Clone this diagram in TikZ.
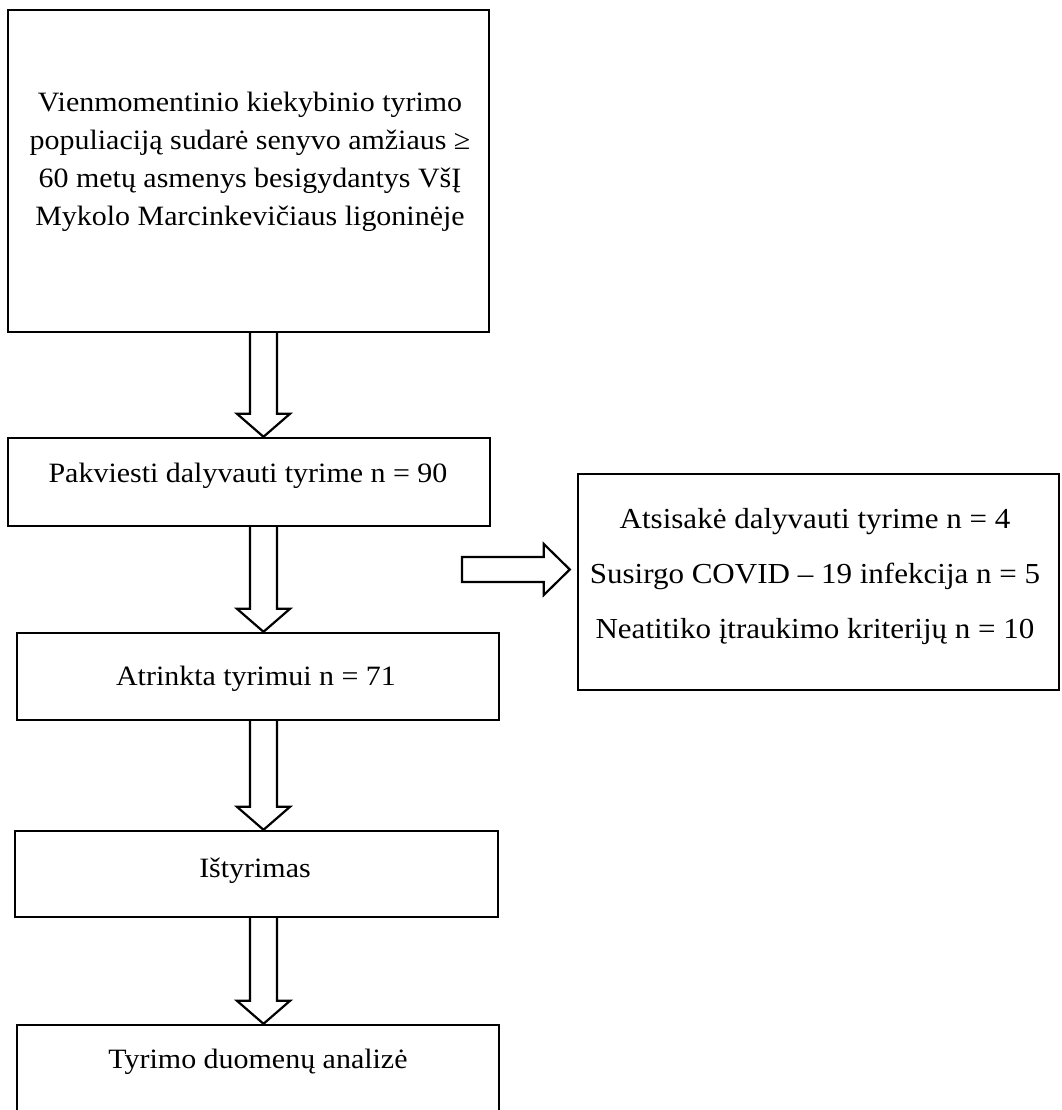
\documentclass[tikz,border=0pt]{standalone}
\usepackage{fontspec}
\setmainfont[FakeStretch=1.07]{Liberation Serif}
\usetikzlibrary{calc}
\newcommand\dnblk[2]{%
  \draw[blk] ($(#1)+(-13.5,0)$) -- ($(#2)+(-13.5,-23)$) -- ($(#2)+(-26.5,-23)$) -- (#2)
    -- ($(#2)+(26.5,-23)$) -- ($(#2)+(13.5,-23)$) -- ($(#1)+(13.5,0)$);}
\begin{document}
\begin{tikzpicture}[x=1pt,y=-1pt,
  box/.style={draw, line width=2.4pt, rectangle, inner sep=0pt},
  txt/.style={font=\fontsize{28}{37.7}\selectfont, inner sep=0pt, anchor=base, align=center},
  txtb/.style={font=\fontsize{29}{55}\selectfont, inner sep=0pt, anchor=base, align=center},
  blk/.style={draw, line width=2.2pt, fill=white, line join=miter}]
\useasboundingbox[fill=white] (0,0) rectangle (1061,1110);

\node[box, minimum width=481pt, minimum height=322pt] (b1) at (248.5,171) {};
\node[box, minimum width=482pt, minimum height=88pt] (b2) at (249,482) {};
\node[box, minimum width=482pt, minimum height=87pt] (b3) at (258,676.5) {};
\node[box, minimum width=483pt, minimum height=86pt] (b4) at (256.5,874) {};
\node[box, minimum width=482pt, minimum height=90pt] (b5) at (258,1070) {};
\node[box, minimum width=481pt, minimum height=216pt] (rb) at (818.5,582) {};

\node[txt] (t1) at (250,225) {Vienmomentinio kiekybinio tyrimo\\populiaciją sudarė senyvo amžiaus ≥\\60 metų asmenys besigydantys VšĮ\\Mykolo Marcinkevičiaus ligoninėje};
\node[txt] (t2) at (248,482) {Pakviesti dalyvauti tyrime n = 90};
\node[txt] (t3) at (256,685) {Atrinkta tyrimui n = 71};
\node[txt] (t4) at (255,877) {Ištyrimas};
\node[txt] (t5) at (258,1068) {Tyrimo duomenų analizė};
\node[txtb] (t6) at (815,638) {Atsisakė dalyvauti tyrime n = 4\\Susirgo COVID – 19 infekcija n = 5\\Neatitiko įtraukimo kriterijų n = 10};

\coordinate (ax) at (263.5,0);
\coordinate (s1) at (b1.south -| ax); \coordinate (e1) at (b2.north -| ax);
\coordinate (s2) at (b2.south -| ax); \coordinate (e2) at (b3.north -| ax);
\coordinate (s3) at (b3.south -| ax); \coordinate (e3) at (b4.north -| ax);
\coordinate (s4) at (b4.south -| ax); \coordinate (e4) at (b5.north -| ax);
\dnblk{s1}{e1}
\dnblk{s2}{e2}
\dnblk{s3}{e3}
\dnblk{s4}{e4}

\coordinate (rs) at (462,569.5);
\coordinate (re) at ($(rb.west |- rs)+(-7,0)$);
\draw[blk] ($(rs)+(0,-12.5)$) -- ($(re)+(-26,-12.5)$) -- ($(re)+(-26,-25.5)$) -- (re)
  -- ($(re)+(-26,25.5)$) -- ($(re)+(-26,12.5)$) -- ($(rs)+(0,12.5)$) -- cycle;
\end{tikzpicture}
\end{document}
